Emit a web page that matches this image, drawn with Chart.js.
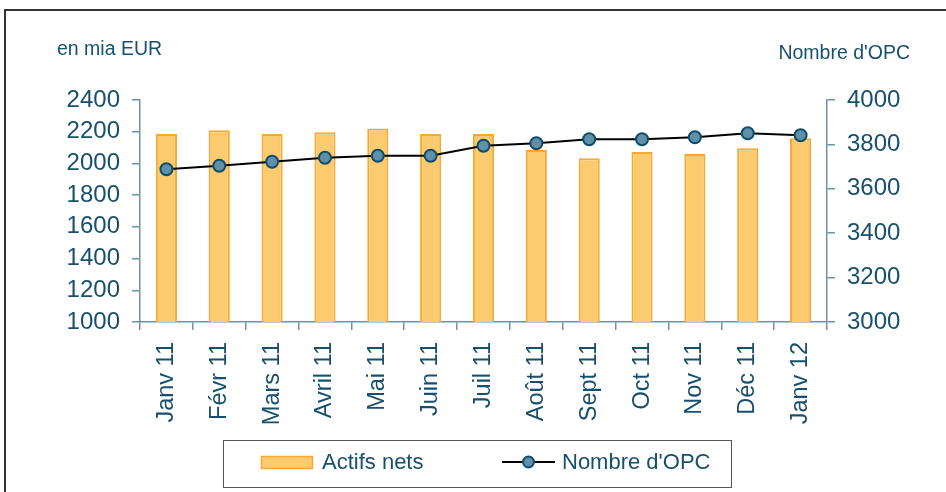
<!DOCTYPE html>
<html>
<head>
<meta charset="utf-8">
<script src="https://cdn.jsdelivr.net/npm/chart.js@4.4.1/dist/chart.umd.min.js"></script>
<style>
  html, body { margin: 0; padding: 0; background: #fff; }
  #wrap { width: 946px; height: 492px; position: relative; }
</style>
</head>
<body>
<div id="wrap"><canvas id="opcChart" width="946" height="492"></canvas></div>
<script>
// values
const categories = ['Janv 11', 'Févr 11', 'Mars 11', 'Avril 11', 'Mai 11', 'Juin 11', 'Juil 11',
    'Août 11', 'Sept 11', 'Oct 11', 'Nov 11', 'Déc 11', 'Janv 12'];
const actifsNets = [2186, 2209, 2186, 2196, 2221, 2186, 2186, 2085, 2032, 2072, 2059, 2095, 2158];
const nombreOpc = [3688, 3704, 3722, 3740, 3749, 3749, 3794, 3805, 3823, 3823, 3832, 3850, 3841];
const leftTicks = [1000, 1200, 1400, 1600, 1800, 2000, 2200, 2400];
const rightTicks = [3000, 3200, 3400, 3600, 3800, 4000];

const textColor = '#17506e';
const axisColor = '#6a94a8';
const fontFamily = '"Liberation Sans", Arial, sans-serif';

// outer frame, axis titles and the boxed legend
const decorPlugin = {
    id: 'decor',
    beforeDraw(chart) {
        const ctx = chart.ctx;
        ctx.save();
        ctx.fillStyle = '#fff';
        ctx.fillRect(0, 0, chart.width, chart.height);
        ctx.strokeStyle = '#333';
        ctx.lineWidth = 2;
        ctx.strokeRect(5, 10, 1000, 1000);
        ctx.restore();
    },
    afterDraw(chart) {
        const ctx = chart.ctx;
        const bars = chart.data.datasets.find(d => d.type !== 'line');
        const line = chart.data.datasets.find(d => d.type === 'line');
        ctx.save();
        ctx.fillStyle = textColor;
        ctx.font = '19.5px ' + fontFamily;
        ctx.textBaseline = 'middle';
        ctx.textAlign = 'left';
        ctx.fillText('en mia EUR', 57, 50);
        ctx.textAlign = 'right';
        ctx.fillText("Nombre d'OPC", 910, 54);

        // legend box
        ctx.strokeStyle = '#555';
        ctx.lineWidth = 1;
        ctx.strokeRect(223.5, 440.5, 508, 47);

        // bar item
        ctx.fillStyle = bars.backgroundColor;
        ctx.fillRect(261, 456, 52, 13);
        ctx.strokeStyle = bars.borderColor;
        ctx.lineWidth = 1.5;
        ctx.strokeRect(261.5, 456.5, 51, 12);

        // line item
        ctx.strokeStyle = line.borderColor;
        ctx.lineWidth = 2;
        ctx.beginPath();
        ctx.moveTo(502, 462);
        ctx.lineTo(555, 462);
        ctx.stroke();
        ctx.beginPath();
        ctx.arc(528.5, 462, 5.5, 0, Math.PI * 2);
        ctx.fillStyle = line.pointBackgroundColor;
        ctx.fill();
        ctx.strokeStyle = line.pointBorderColor;
        ctx.stroke();

        ctx.fillStyle = textColor;
        ctx.font = '22px ' + fontFamily;
        ctx.textAlign = 'left';
        ctx.fillText(bars.label, 322, 463);
        ctx.fillText(line.label, 562, 463);
        ctx.restore();
    }
};

const plainTick = v => String(v);

const chartElem = document.getElementById('opcChart');
new Chart(chartElem.getContext('2d'), {
    type: 'bar',
    data: {
        labels: categories,
        datasets: [{
            type: 'line',
            label: "Nombre d'OPC",
            data: nombreOpc,
            yAxisID: 'y1',
            borderColor: '#000',
            borderWidth: 2,
            pointRadius: 6,
            pointBorderWidth: 2,
            pointBackgroundColor: '#5f90a8',
            pointBorderColor: '#0e4d6b',
            tension: 0,
            order: 0
        }, {
            type: 'bar',
            label: 'Actifs nets',
            data: actifsNets,
            yAxisID: 'y',
            backgroundColor: '#fccb6f',
            borderColor: '#f8a933',
            borderWidth: 2,
            categoryPercentage: 1,
            barPercentage: 0.4,
            order: 1
        }]
    },
    options: {
        responsive: false,
        animation: false,
        layout: { padding: { top: 100, bottom: 65, left: 0, right: 0 } },
        plugins: {
            legend: { display: false },
            tooltip: { enabled: false }
        },
        scales: {
            x: {
                offset: true,
                grid: { drawOnChartArea: false, offset: true, color: axisColor, tickLength: 8, lineWidth: 1.5 },
                border: { color: axisColor, width: 1.5 },
                ticks: {
                    color: textColor, font: { size: 23.5, family: fontFamily },
                    minRotation: 90, maxRotation: 90, padding: 12, autoSkip: false
                },
                afterFit(scale) { scale.height = 105; }
            },
            y: {
                position: 'left',
                min: leftTicks[0],
                max: leftTicks[leftTicks.length - 1],
                afterBuildTicks(scale) { scale.ticks = leftTicks.map(v => ({ value: v })); },
                grid: { drawOnChartArea: false, color: axisColor, tickLength: 8, lineWidth: 1.5 },
                border: { color: axisColor, width: 1.5 },
                ticks: {
                    color: textColor, font: { size: 24, family: fontFamily },
                    padding: 12, autoSkip: false, callback: plainTick
                },
                afterFit(scale) { scale.width = 140; }
            },
            y1: {
                position: 'right',
                min: rightTicks[0],
                max: rightTicks[rightTicks.length - 1],
                afterBuildTicks(scale) { scale.ticks = rightTicks.map(v => ({ value: v })); },
                grid: { drawOnChartArea: false, color: axisColor, tickLength: 8, lineWidth: 1.5 },
                border: { color: axisColor, width: 1.5 },
                ticks: {
                    color: textColor, font: { size: 24, family: fontFamily },
                    padding: 12, autoSkip: false, callback: plainTick
                },
                afterFit(scale) { scale.width = 119; }
            }
        }
    },
    plugins: [decorPlugin]
});
</script>
</body>
</html>
